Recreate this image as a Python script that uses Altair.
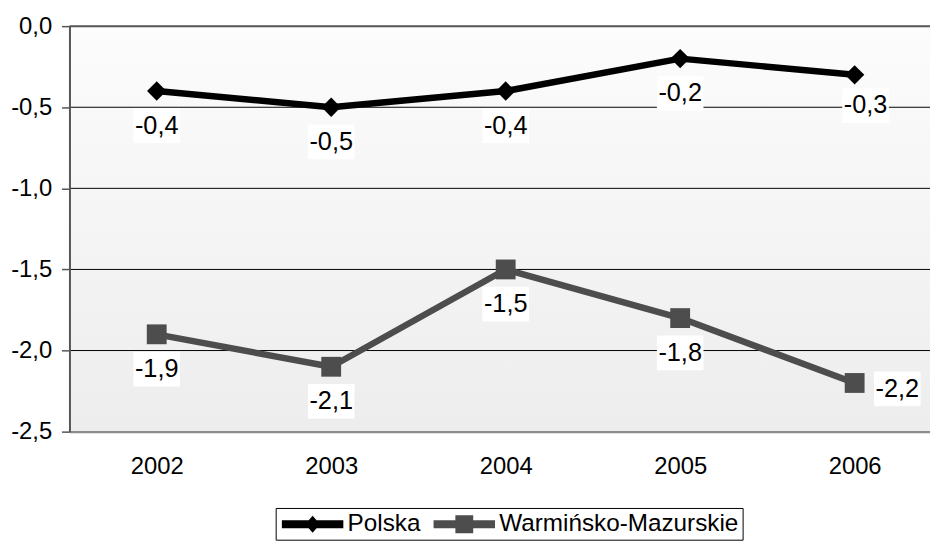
import altair as alt
import pandas as pd

years = ["2002", "2003", "2004", "2005", "2006"]
polska = [-0.4, -0.5, -0.4, -0.2, -0.3]
warm = [-1.9, -2.1, -1.5, -1.8, -2.2]
series_names = ["Polska", "Warmińsko-Mazurskie"]
series_colors = ["#000000", "#4d4d4d"]
y_ticks = [0.0, -0.5, -1.0, -1.5, -2.0, -2.5]

FONT = "Liberation Sans"

rows = []
for s, vals in zip(series_names, [polska, warm]):
    for y, v in zip(years, vals):
        rows.append({"series": s, "year": y, "value": v,
                     "label": f"{v:.1f}".replace(".", ",")})
df = pd.DataFrame(rows)
grid_df = pd.DataFrame({"v": y_ticks})

W, H = 868, 409
y_scale = alt.Scale(domain=[-2.5, 0], nice=False, zero=False)
y_axis = alt.Axis(title=None, values=y_ticks, tickSize=8, tickColor="#555555",
                  tickWidth=1.5, labelFontSize=24, labelFont=FONT,
                  labelColor="#000000", labelPadding=10, domainColor="#555555",
                  domainWidth=2, grid=False, zindex=1,
                  labelExpr="(datum.value < 0 ? '-' : '') + replace(format(abs(datum.value), '.1f'), '.', ',')")
x_enc = alt.X("year:N", scale=alt.Scale(type="point", padding=0.5, range=[0, 880]),
              sort=years,
              axis=alt.Axis(title=None, ticks=False, tickSize=0, labelFontSize=24,
                            labelFont=FONT, labelColor="#000000", labelPadding=23,
                            labelAngle=0, domainColor="#8c8c8c", domainWidth=2.5,
                            grid=False, zindex=1))
y_enc = alt.Y("value:Q", scale=y_scale, axis=y_axis)

base = alt.Chart(df)

bg = alt.Chart(df).mark_rect(
    fill=alt.LinearGradient(gradient="linear",
                            stops=[alt.GradientStop(offset=0, color="#fcfcfc"),
                                   alt.GradientStop(offset=1, color="#ededed")],
                            x1=0, x2=0, y1=0, y2=1)
).encode(x=alt.value(0), x2=alt.value(880), y=alt.value(0), y2=alt.value(H))

grid = alt.Chart(grid_df).mark_rule().encode(
    y=alt.Y("v:Q", scale=y_scale, axis=y_axis),
    color=alt.condition("datum.v == 0", alt.value("#555555"), alt.value("#000000")),
    strokeWidth=alt.condition("datum.v == 0", alt.value(2), alt.value(1)),
)

lines = []
for s, c, shp, sz in zip(series_names, series_colors, ["diamond", "square"], [380, 400]):
    sub = base.transform_filter(alt.datum.series == s)
    lines.append(sub.mark_line(color=c, strokeWidth=6.5, strokeJoin="round").encode(x=x_enc, y=y_enc))
    lines.append(sub.mark_point(shape=shp, size=sz, filled=True, color=c, opacity=1,
                                strokeWidth=0).encode(x=x_enc, y=y_enc))

BOX = "M-1,-0.745L1,-0.745L1,0.745L-1,0.745Z"
special_w = "datum.series == 'Warmińsko-Mazurskie' && datum.year == '2006'"
special_p = "datum.series == 'Polska' && datum.year == '2006'"

def label_layers(data, dx, dy):
    box = data.mark_point(shape=BOX, size=2209, filled=True, color="#ffffff", opacity=1,
                          strokeWidth=0, xOffset=dx, yOffset=dy).encode(x=x_enc, y=y_enc)
    txt = data.mark_text(font=FONT, fontSize=25.5, color="#000000", baseline="middle",
                         align="center", xOffset=dx, yOffset=dy).encode(
        x=x_enc, y=y_enc, text="label:N")
    return [box, txt]

labels = label_layers(base.transform_filter("!(" + special_w + ") && !(" + special_p + ")"), 0, 35) + \
         label_layers(base.transform_filter(special_p), 11, 31) + \
         label_layers(base.transform_filter(special_w), 43, 6)

P_PATH = "M-1,-0.4L5.2,-0.4L5.2,0.4L-1,0.4Z M2.1,-0.85L2.85,0L2.1,0.85L1.35,0Z"
W_PATH = "M-1,-0.4L5.2,-0.4L5.2,0.4L-1,0.4Z M1.2,-0.9L3,-0.9L3,0.9L1.2,0.9Z"

leg = alt.Legend(orient="none", legendX=208, legendY=486, direction="horizontal", title=None,
                 symbolSize=400, symbolStrokeWidth=0, symbolOpacity=1,
                 labelFontSize=24.5, labelFont=FONT, labelColor="#000000", labelOffset=44,
                 padding=4, strokeColor="#000000", fillColor="#ffffff", columnPadding=10,
                 labelLimit=400)

legend_layer = base.transform_filter("false").mark_point(filled=True, opacity=1, size=400).encode(
    x=x_enc, y=y_enc,
    color=alt.Color("series:N", scale=alt.Scale(domain=series_names, range=series_colors), legend=leg),
    shape=alt.Shape("series:N", scale=alt.Scale(domain=series_names, range=[P_PATH, W_PATH]), legend=leg),
)

chart = alt.layer(bg, grid, *lines, *labels, legend_layer).properties(
    width=W, height=H,
    autosize=alt.AutoSizeParams(type="none"),
    padding={"left": 62, "top": 16, "right": 0, "bottom": 108},
).configure_view(stroke=None).configure(background="#ffffff")

chart.save("out.html", embed_options={"renderer": "svg", "actions": False})
